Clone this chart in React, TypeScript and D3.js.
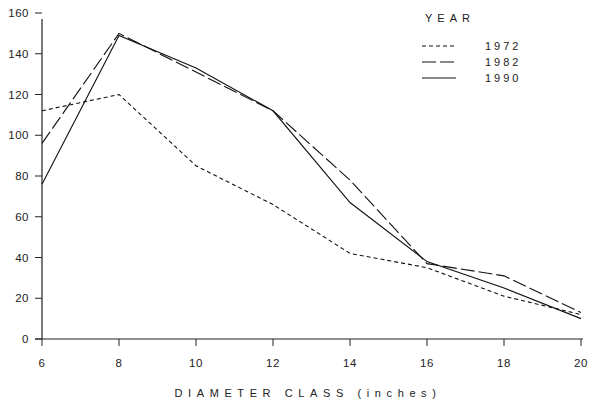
import React from 'react'
import * as d3 from 'd3'

const classes = [6, 8, 10, 12, 14, 16, 18, 20]
const y1972 = [112, 120, 85, 66, 42, 35, 21, 12]
const y1982 = [96, 150, 131, 112, 78, 37, 31, 13]
const y1990 = [76, 149, 133, 112, 67, 38, 25, 10]
const yTicks = [0, 20, 40, 60, 80, 100, 120, 140, 160]

const series = [
  {name: '1972', values: y1972, dash: '4 3'},
  {name: '1982', values: y1982, dash: '14 4'},
  {name: '1990', values: y1990, dash: 'none'},
]

const App = () => {
  const width = 593
  const height = 405
  const x = d3.scaleLinear().domain([6, 20]).range([42, 581])
  const y = d3.scaleLinear().domain([0, 160]).range([339, 13])
  const line = d3
    .line<number>()
    .x((d, i) => x(classes[i]))
    .y(d => y(d))
  const font = '"Liberation Sans", Arial, sans-serif'

  return (
    <svg width={width} height={height} style={{position: 'absolute', left: 0, top: 0}} fontFamily={font}>
      <rect width={width} height={height} fill="#fff" />
      {/* axes */}
      <line x1={42} x2={42} y1={y(157)} y2={y(0)} stroke="#222" strokeWidth={1.2} />
      <line x1={35} x2={583} y1={y(0)} y2={y(0)} stroke="#222" strokeWidth={1.2} />
      {yTicks.map(t => (
        <g key={t}>
          <line x1={35} x2={42} y1={y(t)} y2={y(t)} stroke="#222" strokeWidth={1} />
          <text x={29} y={y(t) + 4} textAnchor="end" fontSize={11.5} letterSpacing={0.5} fill="#222">
            {t}
          </text>
        </g>
      ))}
      {classes.map(c => (
        <g key={c}>
          <line x1={x(c)} x2={x(c)} y1={y(0)} y2={y(0) + 7} stroke="#222" strokeWidth={1} />
          <text x={x(c)} y={367} textAnchor="middle" fontSize={11.5} letterSpacing={0.5} fill="#222">
            {c}
          </text>
        </g>
      ))}
      <text x={308} y={397} textAnchor="middle" fontSize={11} letterSpacing={5.6} fill="#222">
        DIAMETER  CLASS  (inches)
      </text>
      {/* lines */}
      {series.map(s => (
        <path
          key={s.name}
          d={line(s.values) || ''}
          fill="none"
          stroke="#111"
          strokeWidth={1.1}
          strokeDasharray={s.dash}
        />
      ))}
      {/* legend */}
      <text x={450} y={22} textAnchor="middle" fontSize={11} letterSpacing={5} fill="#222">
        YEAR
      </text>
      {series.map((s, i) => {
        const ly = 46 + i * 16
        return (
          <g key={s.name}>
            <line x1={422} x2={456} y1={ly} y2={ly} stroke="#111" strokeWidth={1.1} strokeDasharray={s.dash} />
            <text x={485} y={ly + 4} fontSize={11} letterSpacing={3} fill="#222">
              {s.name}
            </text>
          </g>
        )
      })}
    </svg>
  )
}

export default App
